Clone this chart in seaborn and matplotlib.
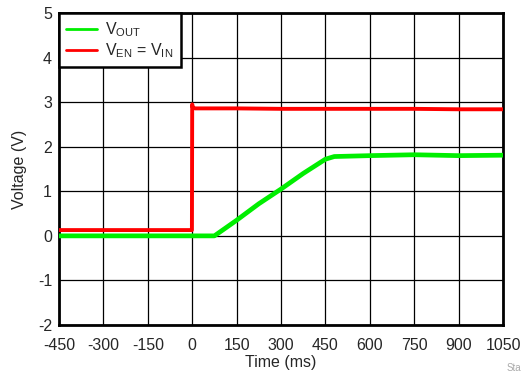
import numpy as np
import pandas as pd
import seaborn as sns
import matplotlib.pyplot as plt

# values (time in ms, voltage in V)
time_out = [-450, 0, 75, 150, 225, 300, 375, 450, 480, 600, 750, 900, 1050]
v_out = [0.0, 0.0, 0.0, 0.35, 0.72, 1.05, 1.40, 1.72, 1.78, 1.80, 1.82, 1.80, 1.81]

time_en = [-450, -1, 0, 2, 10, 150, 300, 450, 600, 750, 900, 1050]
v_en = [0.13, 0.13, 2.95, 2.88, 2.86, 2.86, 2.85, 2.85, 2.85, 2.85, 2.84, 2.84]

x_ticks = [-450, -300, -150, 0, 150, 300, 450, 600, 750, 900, 1050]
y_ticks = [-2, -1, 0, 1, 2, 3, 4, 5]

sns.set_style("white")
plt.rcParams['font.family'] = ['Liberation Sans', 'DejaVu Sans']
plt.rcParams['axes.unicode_minus'] = False

df_out = pd.DataFrame({"t": time_out, "v": v_out})
df_en = pd.DataFrame({"t": time_en, "v": v_en})

fig = plt.figure(figsize=(5.23, 3.75), dpi=100)
ax = fig.add_axes([0.1128, 0.1333, 0.849, 0.832])

sns.lineplot(data=df_out, x="t", y="v", ax=ax, color="#00ee00", lw=3.4,
             label=r"V$_{\mathregular{OUT}}$", zorder=3)
sns.lineplot(data=df_en, x="t", y="v", ax=ax, color="#ff0000", lw=2.8,
             label=r"V$_{\mathregular{EN}}$ = V$_{\mathregular{IN}}$", zorder=3)

ax.set_xlim(-450, 1050)
ax.set_ylim(-2, 5)
ax.set_xticks(x_ticks)
ax.set_yticks(y_ticks)
ax.tick_params(labelsize=11.5, length=0)
ax.tick_params(axis="x", pad=9)
ax.tick_params(axis="y", pad=5)
ax.grid(True, color="black", lw=0.9)
ax.set_axisbelow(True)
for s in ax.spines.values():
    s.set_color("black")
    s.set_linewidth(2)
ax.set_xlabel("Time (ms)", fontsize=11.5, labelpad=2)
ax.set_ylabel("Voltage (V)", fontsize=11.5, labelpad=8)

leg = ax.legend(loc="upper left", borderaxespad=0, fancybox=False,
                framealpha=1, edgecolor="black", fontsize=11.5,
                handlelength=1.95, handletextpad=0.5, borderpad=0.45,
                labelspacing=0.15)
leg.get_frame().set_linewidth(1.8)
for h in leg.get_lines():
    h.set_linewidth(2)
leg.set_zorder(5)

fig.text(0.969, 0.01, "Sta", fontsize=7, color="#aaaaaa", ha="left")

fig.savefig("out.png", dpi=100)
